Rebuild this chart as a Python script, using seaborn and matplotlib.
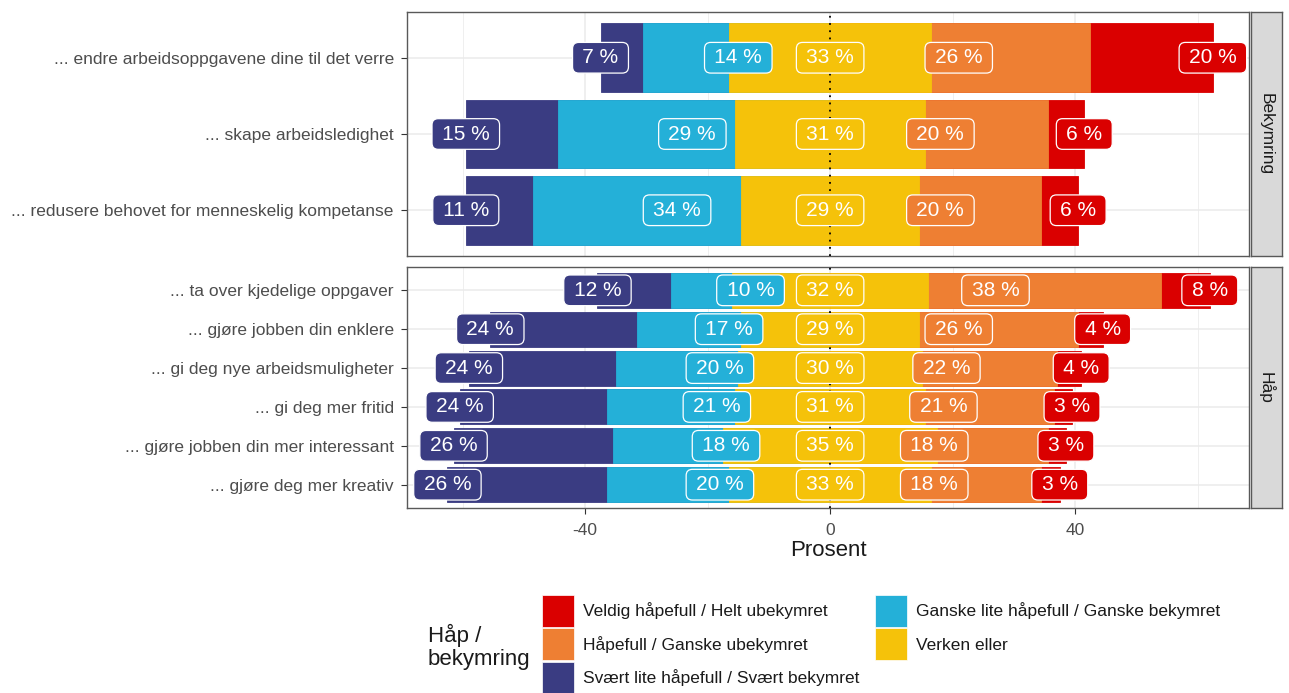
import pandas as pd
import matplotlib
matplotlib.use("Agg")
from matplotlib import pyplot as plt
from matplotlib.patches import Patch
import seaborn as sns


# Påstander i hvert panel
bekymring_items = ["... endre arbeidsoppgavene dine til det verre",
                   "... skape arbeidsledighet",
                   "... redusere behovet for menneskelig kompetanse"]
haap_items = ["... ta over kjedelige oppgaver",
              "... gjøre jobben din enklere",
              "... gi deg nye arbeidsmuligheter",
              "... gi deg mer fritid",
              "... gjøre jobben din mer interessant",
              "... gjøre deg mer kreativ"]

# Svaralternativer og farger
levels = ["Svært lite håpefull / Svært bekymret",
          "Ganske lite håpefull / Ganske bekymret",
          "Verken eller",
          "Håpefull / Ganske ubekymret",
          "Veldig håpefull / Helt ubekymret"]
colors = ["#3A3C82", "#24B0D8", "#F5C20A", "#EE7F33", "#DA0000"]

# Prosent, Bekymring
bek_svaert = [7, 15, 11]
bek_ganske = [14, 29, 34]
bek_verken = [33, 31, 29]
bek_hapefull = [26, 20, 20]
bek_veldig = [20, 6, 6]

# Prosent, Håp
hap_svaert = [12, 24, 24, 24, 26, 26]
hap_ganske = [10, 17, 20, 21, 18, 20]
hap_verken = [32, 29, 30, 31, 35, 33]
hap_hapefull = [38, 26, 22, 21, 18, 18]
hap_veldig = [8, 4, 4, 3, 3, 3]

x_ticks = [-40, 0, 40]


sns.set_theme(style="white")
plt.rcParams['font.family'] = ['Liberation Sans', 'DejaVu Sans']

W, H = 1289, 693


def fx(px):
    return px / W


def fy(py):
    return 1 - py / H


def draw_panel(ax, items, svaert, ganske, verken, hapefull, veldig):
    df = pd.DataFrame({"item": items, "svaert": svaert, "ganske": ganske,
                       "verken": verken, "hapefull": hapefull, "veldig": veldig})
    half = df["verken"] / 2

    # stacked bars by overlaying cumulative ends, outermost first
    layers = [
        (-(half + df["ganske"] + df["svaert"]), colors[0]),
        (-(half + df["ganske"]), colors[1]),
        (-half, colors[2]),
        (half + df["hapefull"] + df["veldig"], colors[4]),
        (half + df["hapefull"], colors[3]),
        (half, colors[2]),
    ]
    for ends, c in layers:
        sns.barplot(x=ends.values, y=items, order=items, orient="h", color=c,
                    saturation=1, width=0.9, errorbar=None,
                    edgecolor=c, linewidth=0.6, ax=ax)

    # label positions
    labels = [
        (-(half + df["ganske"] + df["svaert"]), df["svaert"], colors[0]),
        (-(df["ganske"] / 2 + 8), df["ganske"], colors[1]),
        (half * 0, df["verken"], colors[2]),
        (df["hapefull"] / 2 + 8, df["hapefull"], colors[3]),
        (half + df["hapefull"] + df["veldig"], df["veldig"], colors[4]),
    ]
    for xs, vals, c in labels:
        for i, (xv, v) in enumerate(zip(xs, vals)):
            ax.text(xv, i, f"\u2009{v} %\u2009", ha="center", va="center", fontsize=15,
                    color="white", zorder=5, clip_on=False,
                    bbox=dict(boxstyle="round,pad=0.28,rounding_size=0.3",
                              fc=c, ec="white", lw=0.9))

    ax.axvline(0, color="black", ls=(0, (1, 3)), lw=1.3, zorder=4)
    ax.set_ylim(len(items) - 1 + 0.6, -0.6)
    ax.set_xlim(-69.1, 68.4)
    ax.set_xlabel("")
    ax.set_ylabel("")
    ax.set_xticks(x_ticks)
    ax.set_xticks([-60, -20, 20, 60], minor=True)
    ax.set_axisbelow(True)
    ax.grid(which="major", color="#EBEBEB", lw=1.1)
    ax.grid(which="minor", axis="x", color="#EBEBEB", lw=0.55)
    ax.tick_params(which="minor", length=0)
    ax.tick_params(axis="y", length=4, width=0.8, color="#333333", pad=5.5,
                   labelsize=12.5, labelcolor="#4D4D4D", left=True)
    for s in ax.spines.values():
        s.set_color("#595959")
        s.set_linewidth(1.0)


fig = plt.figure(figsize=(12.89, 6.93), dpi=100)
ax1 = fig.add_axes([fx(407), fy(256), fx(1249) - fx(407), fy(12) - fy(256)])
ax2 = fig.add_axes([fx(407), fy(508), fx(1249) - fx(407), fy(267) - fy(508)])

draw_panel(ax1, bekymring_items, bek_svaert, bek_ganske, bek_verken, bek_hapefull, bek_veldig)
draw_panel(ax2, haap_items, hap_svaert, hap_ganske, hap_verken, hap_hapefull, hap_veldig)

ax1.tick_params(axis="x", length=0, labelbottom=False)
ax2.tick_params(axis="x", length=4, width=0.8, color="#333333", pad=6.5,
                labelsize=12.5, labelcolor="#4D4D4D", bottom=True)
ax2.set_xticklabels([str(t) for t in x_ticks])
ax2.set_xlabel("Prosent", fontsize=16, color="#1A1A1A", labelpad=1.5)

# facet strips
for ax, name in [(ax1, "Bekymring"), (ax2, "Håp")]:
    pos = ax.get_position()
    sax = fig.add_axes([fx(1251), pos.y0, fx(1282) - fx(1251), pos.height])
    sax.set_facecolor("#D9D9D9")
    sax.set_xticks([])
    sax.set_yticks([])
    for s in sax.spines.values():
        s.set_color("#595959")
        s.set_linewidth(1.0)
    sax.text(0.5, 0.5, name, rotation=-90, ha="center", va="center",
             fontsize=12.5, color="#1A1A1A", transform=sax.transAxes)

# legend
order = [4, 3, 0, 1, 2]
handles = [Patch(facecolor=colors[i], edgecolor="white", lw=0.5, label=levels[i]) for i in order]
fig.legend(handles=handles, loc="upper left", bbox_to_anchor=(fx(542), fy(595)),
           ncol=2, frameon=False, fontsize=12.5, handlelength=1.85, handleheight=2.45,
           labelspacing=0.08, handletextpad=0.5, columnspacing=0.9,
           borderpad=0, borderaxespad=0, labelcolor="#1A1A1A")
fig.text(fx(428), fy(647), "Håp /\nbekymring", ha="left", va="center",
         fontsize=16, color="#1A1A1A", linespacing=1.1)

fig.savefig("out.png", dpi=100)
